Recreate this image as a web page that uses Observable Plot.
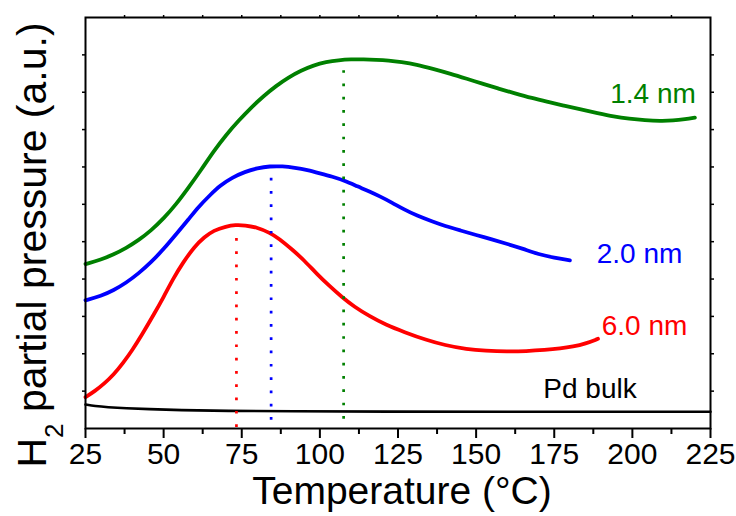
<!DOCTYPE html>
<html><head><meta charset="utf-8">
<script src="https://cdn.jsdelivr.net/npm/d3@7"></script>
<script src="https://cdn.jsdelivr.net/npm/@observablehq/plot@0.6"></script>
<style>body{margin:0;background:#fff;}</style>
</head><body><div id="chart"></div>
<script>
// ---- tick values ----
const xMajorTicks = [25, 50, 75, 100, 125, 150, 175, 200, 225];
const xMinorTicks = [37.5, 62.5, 87.5, 112.5, 137.5, 162.5, 187.5, 212.5];
const xTopTicks = [37.5, 50, 62.5, 75, 87.5, 100, 112.5, 125, 137.5, 150, 162.5, 175, 187.5, 200, 212.5];
const yTicks = [1, 2, 3, 4, 5, 6, 7, 8, 9, 10];

// ---- series: temperature (°C) and H2 partial pressure (a.u.) ----
const t14 = [25,30,34,38,42,46,50,54,58,62,66,70,74,78,82,86,90,94,98,102,106,110,114,118,122,126,131,136,142,147,152,157,162,168,173,178,183,189,194,199,204,209,213,217,220];
const v14 = [4.40,4.52,4.66,4.83,5.04,5.30,5.62,6.00,6.45,6.92,7.42,7.86,8.24,8.59,8.90,9.17,9.40,9.58,9.72,9.81,9.86,9.88,9.88,9.87,9.85,9.81,9.74,9.63,9.49,9.36,9.23,9.10,8.98,8.84,8.74,8.64,8.55,8.44,8.35,8.29,8.25,8.23,8.24,8.28,8.32];

const t20 = [25,30,34,38,42,46,50,54,58,61,65,68,72,76,80,84,88,92,96,100,104,108,112,116,119,123,127,131,136,140,145,150,155,160,165,170,175,180];
const v20 = [3.43,3.55,3.70,3.90,4.15,4.45,4.80,5.20,5.60,5.92,6.26,6.50,6.72,6.87,6.97,7.02,7.02,6.98,6.92,6.83,6.74,6.63,6.48,6.34,6.22,6.05,5.86,5.70,5.54,5.42,5.30,5.18,5.06,4.94,4.81,4.66,4.57,4.50];

const t60 = [25,28,31,34,37,40,43,47,50,53,56,60,63,66,70,73,76,80,84,87,91,95,99,103,107,111,116,121,127,134,140,147,153,160,166,172,177,181,185,189];
const v60 = [0.84,1.00,1.20,1.44,1.75,2.10,2.50,3.07,3.52,4.00,4.42,4.88,5.12,5.30,5.41,5.45,5.44,5.38,5.24,5.08,4.80,4.50,4.14,3.82,3.52,3.26,3.00,2.78,2.58,2.37,2.23,2.12,2.08,2.06,2.07,2.10,2.14,2.19,2.27,2.40];

const tBulk = [25,28,32,38,45,55,70,90,120,160,200,225];
const vBulk = [0.64,0.60,0.57,0.54,0.52,0.49,0.47,0.46,0.45,0.45,0.45,0.45];

const seriesNames = ["1.4 nm", "2.0 nm", "6.0 nm", "Pd bulk"];
const seriesColors = ["#008000", "#0000ff", "#ff0000", "#000000"];

// ---- peak markers (dotted verticals) ----
const peakT = [73.3, 84.4, 107.6];
const peakTop = [5.14, 6.73, 9.58];
const peakBottom = [0.03, 0.22, 0.25];
const peakColors = ["#ff0000", "#0000ff", "#008000"];

// ---- series labels ----
const labelText = ["1.4 nm", "2.0 nm", "6.0 nm", "Pd bulk"];
const labelT = [220.3, 188.6, 190.2, 171.5];
const labelV = [8.70, 4.42, 2.49, 0.82];
const labelAnchor = ["end", "start", "start", "start"];
const labelColors = ["#008000", "#0000ff", "#ff0000", "#000000"];

const xTitle = "Temperature (°C)";
const yTitle = "H2 partial pressure (a.u.)";

// ---- build tables ----
const allT = [t14, t20, t60, tBulk];
const allV = [v14, v20, v60, vBulk];
const curves = seriesNames.map((name, k) => allT[k].map((t, i) => ({series: name, t, v: allV[k][i], color: seriesColors[k]})));
const peaks = peakT.map((t, i) => ({t, top: peakTop[i], bottom: peakBottom[i], color: peakColors[i]}));
const labels = labelText.map((text, i) => ({text, t: labelT[i], v: labelV[i], anchor: labelAnchor[i], color: labelColors[i]}));

const lineMarks = curves.map((rows, k) => Plot.line(rows, {
  x: "t", y: "v", stroke: seriesColors[k],
  strokeWidth: k === 3 ? 2.6 : 3.8, curve: "basis"
}));

const labelMarks = labels.map(l => Plot.text([l], {
  x: "t", y: "v", text: "text", fill: l.color, textAnchor: l.anchor,
  lineAnchor: "bottom", fontSize: 28
}));

const plot = Plot.plot({
  width: 736, height: 516,
  marginLeft: 85, marginRight: 26, marginTop: 17, marginBottom: 88,
  x: {domain: [25, 225]},
  y: {domain: [0, 11]},
  style: {fontFamily: "'Liberation Sans', Arial, sans-serif", color: "black", background: "white", overflow: "visible"},
  marks: [
    Plot.axisX({ticks: xMajorTicks, anchor: "bottom", tickSize: 10, tickPadding: 4, strokeWidth: 2, fontSize: 30, label: null, tickFormat: d => String(d)}),
    Plot.axisX({ticks: xMinorTicks, anchor: "bottom", tickSize: 6, strokeWidth: 2, fill: "none", label: null}),
    Plot.axisX({ticks: xTopTicks, anchor: "top", tickSize: 3, strokeWidth: 1.5, fill: "none", label: null}),
    Plot.axisY({ticks: yTicks, anchor: "left", tickSize: 3, strokeWidth: 1.5, fill: "none", label: null}),
    Plot.axisY({ticks: yTicks, anchor: "right", tickSize: 3, strokeWidth: 1.5, fill: "none", label: null}),
    ...lineMarks,
    Plot.ruleX(peaks, {x: "t", y1: "bottom", y2: "top", stroke: "color", strokeWidth: 2.7, strokeDasharray: "2.7 10.6"}),
    Plot.frame({stroke: "black", strokeWidth: 2}),
    ...labelMarks,
    Plot.text([xTitle], {frameAnchor: "bottom", dx: 4, dy: 75, lineAnchor: "bottom", fontSize: 39}),
    Plot.text([yTitle], {frameAnchor: "left", textAnchor: "middle", rotate: -90, dx: -40, dy: 22, lineAnchor: "bottom", fontSize: 41})
  ]
});

document.getElementById("chart").appendChild(plot);

// subscript in the y title
const yt = Array.from(plot.querySelectorAll("text")).find(t => t.textContent === yTitle);
if (yt) {
  yt.textContent = "";
  const s = d3.select(yt);
  s.append("tspan").text("H");
  s.append("tspan").attr("dy", 17).attr("font-size", 26).text("2");
  s.append("tspan").attr("dy", -17).text(" partial pressure (a.u.)");
}
</script>
</body></html>
